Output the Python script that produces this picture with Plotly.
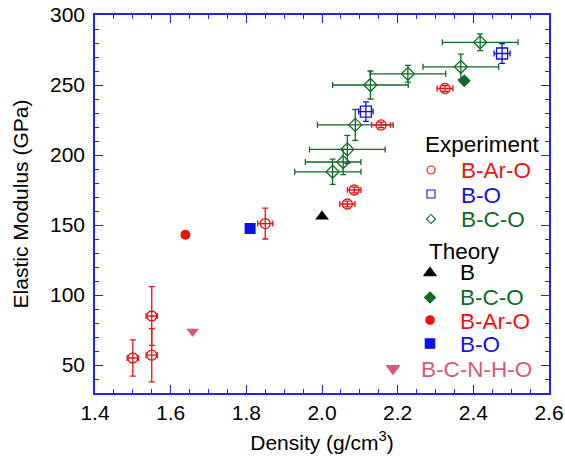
import plotly.graph_objects as go

# ---------------- data ----------------
# Experiment: B-Ar-O (open red circles)
exp_baro_x = [1.50, 1.55, 1.55, 1.85, 2.067, 2.085, 2.156, 2.325]
exp_baro_y = [55, 85, 57, 151, 165, 175, 221.5, 247.5]
exp_baro_xerr = [0.015, 0.015, 0.015, 0.02, 0.02, 0.018, 0.025, 0.021]
exp_baro_yerr = [13, 21, 19, 11, 2, 2, 2, 2]

# Experiment: B-O (open blue squares)
exp_bo_x = [2.116, 2.476]
exp_bo_y = [231, 272.5]
exp_bo_xerr = [0.019, 0.021]
exp_bo_yerr = [7, 7]

# Experiment: B-C-O (open green diamonds)
exp_bco_x = [2.028, 2.056, 2.067, 2.088, 2.128, 2.227, 2.367, 2.418]
exp_bco_y = [188, 195, 204, 221.5, 250, 258, 263, 280.5]
exp_bco_xerr_minus = [0.1, 0.1, 0.1, 0.1, 0.1, 0.1, 0.1, 0.1]
exp_bco_xerr_plus = [0.075, 0.047, 0.1, 0.1, 0.1, 0.1, 0.1, 0.1]
exp_bco_yerr = [9, 9, 10, 11, 10, 6, 9, 6]

# Theory
th_b_x, th_b_y = [2.0], [156]
th_bco_x, th_bco_y = [2.376], [253]
th_baro_x, th_baro_y = [1.639], [143]
th_bo_x, th_bo_y = [1.81], [147.5]
th_bcnho_x, th_bcnho_y = [1.658], [74]

x_ticks = [1.4, 1.6, 1.8, 2.0, 2.2, 2.4, 2.6]
x_ticklabels = ["1.4", "1.6", "1.8", "2.0", "2.2", "2.4", "2.6"]
y_ticks = [50, 100, 150, 200, 250, 300]

# ---------------- styles ----------------
RED = "#ee1111"
BLUE = "#1010e6"
GREEN = "#0f6a26"
PINK = "#d9577e"
BLACK = "#000000"
AXIS = "#2222ee"
FONT = "Liberation Sans, Arial, Helvetica, sans-serif"

fig = go.Figure()

fig.add_trace(go.Scatter(
    x=exp_bco_x, y=exp_bco_y, mode="markers", name="B-C-O",
    marker=dict(symbol="diamond-open", size=10, color=GREEN, line=dict(width=1.3)),
    error_x=dict(type="data", symmetric=False, array=exp_bco_xerr_plus,
                 arrayminus=exp_bco_xerr_minus, color=GREEN, thickness=1.3, width=3),
    error_y=dict(type="data", array=exp_bco_yerr, color=GREEN, thickness=1.3, width=3),
    cliponaxis=False))

fig.add_trace(go.Scatter(
    x=exp_bo_x, y=exp_bo_y, mode="markers", name="B-O",
    marker=dict(symbol="square-open", size=11, color=BLUE, line=dict(width=1.3)),
    error_x=dict(type="data", array=exp_bo_xerr, color=BLUE, thickness=1.3, width=3),
    error_y=dict(type="data", array=exp_bo_yerr, color=BLUE, thickness=1.3, width=3)))

fig.add_trace(go.Scatter(
    x=exp_baro_x, y=exp_baro_y, mode="markers", name="B-Ar-O",
    marker=dict(symbol="circle-open", size=10, color=RED, line=dict(width=1.3)),
    error_x=dict(type="data", array=exp_baro_xerr, color=RED, thickness=1.3, width=3),
    error_y=dict(type="data", array=exp_baro_yerr, color=RED, thickness=1.3, width=3)))

fig.add_trace(go.Scatter(x=th_b_x, y=th_b_y, mode="markers", name="B",
                         marker=dict(symbol="triangle-up", size=12, color=BLACK)))
fig.add_trace(go.Scatter(x=th_bco_x, y=th_bco_y, mode="markers", name="B-C-O theory",
                         marker=dict(symbol="diamond", size=10, color=GREEN)))
fig.add_trace(go.Scatter(x=th_baro_x, y=th_baro_y, mode="markers", name="B-Ar-O theory",
                         marker=dict(symbol="circle", size=10, color=RED)))
fig.add_trace(go.Scatter(x=th_bo_x, y=th_bo_y, mode="markers", name="B-O theory",
                         marker=dict(symbol="square", size=11, color=BLUE)))
fig.add_trace(go.Scatter(x=th_bcnho_x, y=th_bcnho_y, mode="markers", name="B-C-N-H-O",
                         marker=dict(symbol="triangle-down", size=11, color=PINK)))

# ---------------- key (drawn on an overlay axis in pixel units) ----------------
key_symbols = [
    ("circle-open", 8, RED, 431, 170),
    ("square-open", 8, BLUE, 431, 194),
    ("diamond-open", 7, GREEN, 431, 219),
    ("triangle-up", 11, BLACK, 430, 273),
    ("diamond", 8.5, GREEN, 430, 297.5),
    ("circle", 8.5, RED, 430, 320),
    ("square", 9.5, BLUE, 430, 343.5),
    ("triangle-down", 11.5, PINK, 393, 368.5),
]
for sym, size, col, kx, ky in key_symbols:
    fig.add_trace(go.Scatter(x=[kx], y=[ky], mode="markers", xaxis="x2", yaxis="y2",
                             marker=dict(symbol=sym, size=size, color=col,
                                         line=dict(width=1.1, color=col)),
                             cliponaxis=False, hoverinfo="skip"))

key_texts = [
    ("Experiment", BLACK, 423, 144),
    ("B-Ar-O", RED, 459, 170),
    ("B-O", BLUE, 459, 195),
    ("B-C-O", GREEN, 459, 219),
    ("Theory", BLACK, 427, 251),
    ("B", BLACK, 458, 272.5),
    ("B-C-O", GREEN, 458, 297.5),
    ("B-Ar-O", RED, 458, 321.5),
    ("B-O", BLUE, 458, 344.5),
    ("B-C-N-H-O", PINK, 419, 369.5),
]
annotations = []
for txt, col, tx, ty in key_texts:
    annotations.append(dict(text=txt, x=tx, y=ty, xref="x2", yref="y2",
                            xanchor="left", yanchor="middle", showarrow=False,
                            font=dict(size=22.5, color=col, family=FONT)))

axis_common = dict(
    showline=True, linecolor=AXIS, linewidth=1.5, mirror="ticks",
    ticks="inside", tickcolor=AXIS, ticklen=8, tickwidth=1.3,
    showgrid=False, zeroline=False, automargin=False,
    tickfont=dict(size=21, color=BLACK, family=FONT),
)

fig.update_layout(
    width=565, height=459,
    margin=dict(l=95, r=16, t=15, b=66),
    paper_bgcolor="white", plot_bgcolor="white",
    showlegend=False,
    font=dict(family=FONT, color=BLACK),
    xaxis=dict(range=[1.4, 2.6], tickvals=x_ticks, ticktext=x_ticklabels,
               minor=dict(dtick=0.05, ticks="inside", ticklen=4.5, tickcolor=AXIS, tickwidth=1.2),
               title=dict(text="Density (g/cm<sup>3</sup>)", font=dict(size=21, family=FONT),
                          standoff=12),
               **axis_common),
    yaxis=dict(range=[30, 300], tickvals=y_ticks, ticklabelstandoff=4,
               minor=dict(dtick=10, ticks="inside", ticklen=4.5, tickcolor=AXIS, tickwidth=1.2),
               title=dict(text="Elastic Modulus (GPa)", font=dict(size=21, family=FONT),
                          standoff=16),
               **axis_common),
    xaxis2=dict(overlaying="x", range=[95, 549], visible=False),
    yaxis2=dict(overlaying="y", range=[393, 15], visible=False),
    annotations=annotations,
)

fig.write_html("out.html", config={"displayModeBar": False},
               post_script="document.body.style.margin='0';")
